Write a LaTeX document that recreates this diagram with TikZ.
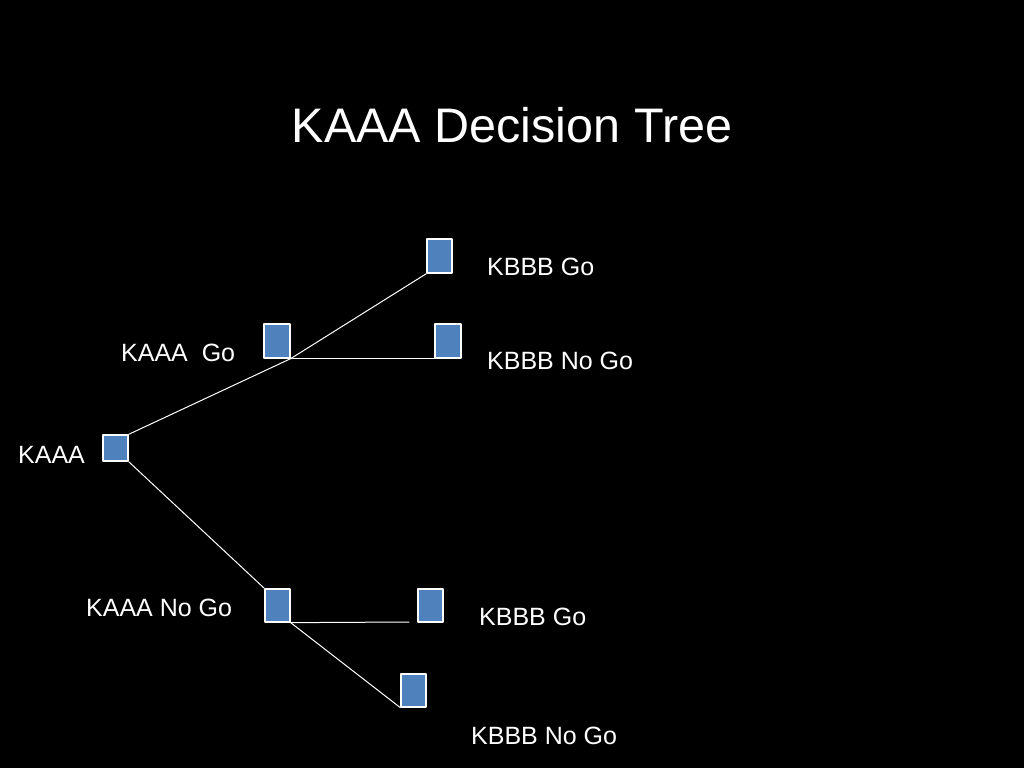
\documentclass[tikz,border=0pt]{standalone}
\usepackage{fontspec}
\setmainfont{Liberation Sans}
\usepackage{pgf,tikz}
\definecolor{boxblue}{RGB}{79,129,189}
\tikzset{
  decbox/.style={draw=white,fill=boxblue,line width=1.3pt,inner sep=0pt,minimum width=25pt,minimum height=33pt},
  lbl/.style={text=white,anchor=base west,inner sep=0pt,font=\fontsize{25}{30}\selectfont},
  branch/.style={draw=white,line width=1pt}
}
\begin{document}
\begin{tikzpicture}[x=1pt,y=-1pt,line cap=round,line join=round]
\fill[black] (0,0) rectangle (1024,768);
\useasboundingbox (0,0) rectangle (1024,768);
\node (title) [text=white,anchor=base,inner sep=0pt,font=\fontsize{48.5}{58}\selectfont] at (512,142) {KAAA Decision Tree};
\node (root) [decbox,minimum height=26pt] at (115.5,448) {};
\node (ago) [decbox,minimum width=26pt,minimum height=34pt] at (277,341) {};
\node (bgo) [decbox,minimum height=34pt] at (439.5,256) {};
\node (bnogo) [decbox,minimum width=26pt,minimum height=34pt] at (448,341) {};
\node (anogo) [decbox] at (277.5,605.5) {};
\node (bgotwo) [decbox] at (430.5,605.5) {};
\node (bnogotwo) [decbox] at (413.5,690.5) {};
\coordinate (bgotwoend) at (409,622);
\draw [branch] (root.north east) -- (ago.south east);
\draw [branch] (ago.south east) -- (bgo.south west);
\draw [branch] (ago.south east) -- (bnogo.south west);
\draw [branch] (root.south east) -- (anogo.north west);
\draw [branch] (anogo.south east) -- (bgotwoend);
\draw [branch] (anogo.south east) -- (bnogotwo.south west);
\node (lroot) [lbl] at (18,463) {KAAA};
\node (lago) [lbl] at (121,361) {KAAA~~Go};
\node (lanogo) [lbl] at (86,616) {KAAA No Go};
\node (lbgo) [lbl] at (487,275) {KBBB Go};
\node (lbnogo) [lbl] at (487,369) {KBBB No Go};
\node (lbgotwo) [lbl] at (479,625) {KBBB Go};
\node (lbnogotwo) [lbl] at (471,744) {KBBB No Go};
\end{tikzpicture}
\end{document}
